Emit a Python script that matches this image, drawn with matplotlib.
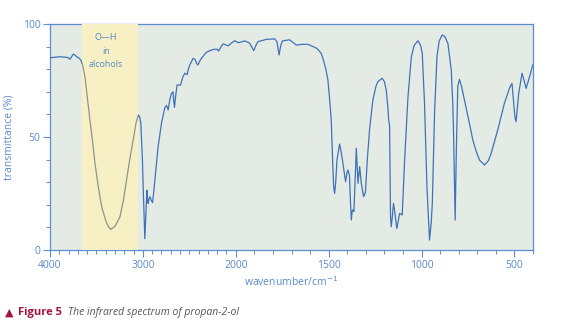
import numpy as np
import matplotlib
matplotlib.use("Agg")
import matplotlib.pyplot as plt
from matplotlib.ticker import FixedLocator, NullFormatter

# wavenumber (cm-1) and transmittance (%)
wavenumber = [4000, 3950, 3900, 3830, 3800, 3785, 3760, 3749, 3730, 3713, 3690, 3667,
              3650, 3624, 3600, 3570, 3540, 3516, 3480, 3444, 3400, 3370, 3344, 3300,
              3247, 3210, 3176, 3140, 3104, 3075, 3050, 3035, 3022, 3005, 2997, 2985,
              2979, 2972, 2968, 2963, 2957, 2950, 2943, 2935, 2925, 2910, 2896, 2885,
              2871, 2855, 2836, 2800, 2764, 2745, 2728, 2710, 2692, 2675, 2668, 2660,
              2645, 2631, 2595, 2570, 2549, 2524, 2510, 2495, 2459, 2440, 2420, 2406,
              2390, 2370, 2316, 2262, 2230, 2198, 2185, 2165, 2137, 2110, 2083, 2050,
              2011, 1987, 1952, 1928, 1915, 1903, 1892, 1880, 1835, 1790, 1778, 1767,
              1758, 1749, 1710, 1674, 1640, 1611, 1563, 1540, 1531, 1515, 1504, 1495,
              1486, 1478, 1473, 1468, 1462, 1455, 1441, 1432, 1423, 1409, 1402, 1396,
              1388, 1383, 1378, 1373, 1369, 1364, 1358, 1351, 1342, 1333, 1325, 1312,
              1302, 1292, 1280, 1262, 1245, 1235, 1212, 1200, 1190, 1180, 1177, 1172,
              1167, 1163, 1157, 1151, 1146, 1133, 1118, 1104, 1091, 1073, 1055, 1040,
              1019, 1005, 996, 984, 971, 957, 948, 942, 930, 917, 905, 889,
              875, 858, 840, 832, 828, 822, 819, 813, 805, 796, 785, 769,
              742, 724, 705, 688, 661, 640, 625, 590, 554, 525, 513, 505,
              497, 491, 485, 477, 459, 448, 437, 428, 419, 404, 400]
transmittance = [85.0, 85.3, 85.5, 85.3, 85.0, 84.4, 86.0, 86.7, 86.2, 85.5, 85.0, 84.0,
                 82.0, 76.7, 68.0, 57.5, 47.5, 38.4, 28.0, 19.2, 13.0, 10.2, 9.1, 10.5,
                 14.7, 22.0, 31.0, 40.5, 48.7, 56.0, 59.7, 59.0, 56.0, 40.0, 28.0, 12.0,
                 5.0, 12.0, 16.4, 22.0, 26.5, 22.0, 20.6, 22.5, 23.6, 22.0, 21.0, 25.0,
                 31.0, 38.0, 45.7, 56.0, 63.0, 64.0, 62.0, 66.5, 69.3, 70.0, 66.0, 63.1,
                 69.0, 73.0, 73.0, 76.5, 78.2, 77.6, 80.0, 81.9, 84.8, 84.4, 82.5, 81.9,
                 83.5, 84.8, 87.5, 88.5, 88.8, 88.8, 88.0, 89.5, 91.2, 90.8, 90.3, 91.5,
                 92.6, 91.7, 92.5, 91.7, 90.0, 88.2, 90.5, 92.2, 93.2, 93.4, 92.0, 86.3,
                 90.5, 92.5, 93.0, 90.7, 91.0, 91.0, 89.2, 87.0, 84.8, 80.0, 75.2, 67.0,
                 57.5, 38.0, 28.0, 25.0, 30.0, 40.0, 46.9, 43.0, 38.3, 30.2, 34.0, 35.4,
                 33.0, 22.0, 13.3, 17.5, 17.7, 17.0, 30.0, 45.0, 29.5, 36.9, 30.0, 23.6,
                 25.5, 40.0, 53.1, 66.4, 72.5, 74.5, 76.0, 74.5, 70.8, 62.0, 57.5, 55.0,
                 14.7, 10.3, 15.0, 20.6, 18.0, 9.5, 16.2, 15.5, 39.8, 67.8, 85.5, 90.5,
                 92.6, 90.5, 87.0, 64.9, 28.0, 4.4, 12.0, 20.6, 60.5, 85.5, 92.5, 95.1,
                 94.5, 91.4, 79.6, 65.0, 53.1, 25.0, 13.3, 42.8, 72.3, 75.5, 72.5, 66.4,
                 56.0, 48.7, 43.5, 39.8, 37.6, 39.5, 42.8, 53.1, 64.9, 72.0, 73.7, 66.0,
                 58.5, 56.8, 62.0, 69.3, 78.2, 75.0, 71.5, 74.0, 76.5, 81.1, 82.0]

tick_values = [4000, 3000, 2000, 1500, 1000, 500]
oh_band = (3660, 3050)

blue = "#3f72b8"
label_blue = "#5a8acb"
crimson = "#a5123f"


# IR charts switch scale at 2000 cm-1 (twice as stretched below)
# kept increasing in w, the axis is inverted by set_xlim
def fwd(w):
    w = np.asarray(w, dtype=float)
    return np.where(w >= 2000, (w - 4000) / 1000.0, -2 - (2000 - w) / 500.0)


def inv(u):
    u = np.asarray(u, dtype=float)
    return np.where(u >= -2, 4000 + 1000.0 * u, 2000 + 500.0 * (u + 2))


plt.rcParams["font.family"] = ["Open Sans", "DejaVu Sans"]

fig = plt.figure(figsize=(5.64, 3.34), dpi=100)
ax = fig.add_axes([50 / 564, 1 - 250 / 334, 483 / 564, 226 / 334])
ax.set_xscale("function", functions=(fwd, inv))
ax.set_xlim(4000, 400)
ax.set_ylim(0, 100)
ax.set_facecolor("#e4ebe5")

ax.axvspan(oh_band[0], oh_band[1], color="#f6f0c4", lw=0, zorder=1)
ax.plot(wavenumber, transmittance, color=blue, lw=0.9, zorder=3)
# cover the blue line inside the band, then redraw that part in grey
ax.axvspan(oh_band[0], oh_band[1], color="#f6f0c4", lw=0, zorder=3.5)
grey_part, = ax.plot(wavenumber, transmittance, color="#8e958a", lw=0.9, zorder=4)
band_clip = ax.axvspan(oh_band[0], oh_band[1], color="none", lw=0)
grey_part.set_clip_path(band_clip)

ax.text(3400, 88, "O\u2014H\nin\nalcohols", ha="center", va="center",
        fontsize=6.5, color=label_blue, linespacing=1.6, zorder=5)

ax.xaxis.set_major_locator(FixedLocator(tick_values))
ax.set_xticklabels([str(t) for t in tick_values])
minor = [w for w in range(400, 4001, 100) if w not in tick_values]
ax.xaxis.set_minor_locator(FixedLocator(minor))
ax.xaxis.set_minor_formatter(NullFormatter())
ax.set_yticks([0, 50, 100])
ax.set_yticks(range(0, 101, 10), minor=True)

for s in ax.spines.values():
    s.set_color("#5b8dd0")
    s.set_linewidth(0.9)
ax.tick_params(which="major", length=5, width=0.8, color="#5b8dd0",
               labelcolor=label_blue, labelsize=7.5, pad=2)
ax.tick_params(which="minor", length=3, width=0.7, color="#5b8dd0")

ax.set_xlabel("wavenumber/cm$^{-1}$", color=label_blue, fontsize=7.5, labelpad=3)
ax.set_ylabel("transmittance (%)", color=label_blue, fontsize=7.5, labelpad=6)

fig.text(5 / 564, 1 - 313 / 334, "\u25b2", color=crimson, fontsize=8,
         va="center", family="DejaVu Sans")
fig.text(18 / 564, 1 - 313 / 334, "Figure 5", color=crimson, fontsize=8,
         fontweight="bold", va="center")
fig.text(68 / 564, 1 - 313 / 334, "The infrared spectrum of propan-2-ol",
         color="#555555", fontsize=7.5, style="italic", va="center")

fig.savefig("out.png", dpi=100)
